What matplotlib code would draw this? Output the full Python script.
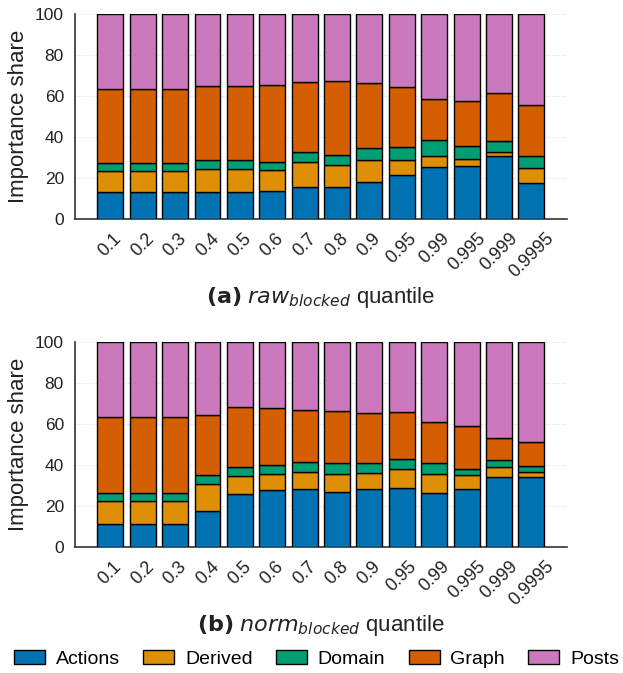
import numpy as np
import matplotlib
matplotlib.use("Agg")
import matplotlib.pyplot as plt

plt.rcParams['font.family'] = ['Liberation Sans', 'DejaVu Sans']
plt.rcParams['mathtext.fontset'] = 'dejavusans'

# quantile labels
quantiles = ['0.1', '0.2', '0.3', '0.4', '0.5', '0.6', '0.7', '0.8', '0.9',
             '0.95', '0.99', '0.995', '0.999', '0.9995']
groups = ['Actions', 'Derived', 'Domain', 'Graph', 'Posts']
colors = ['#0173B2', '#DE8F05', '#029E73', '#D55E00', '#CC78BC']

# (a) raw_blocked: share per group (percent)
raw_actions = [13.4, 13.4, 13.4, 13.0, 13.0, 13.5, 15.5, 15.8, 18.2, 21.5, 25.2, 25.7, 30.8, 17.4]
raw_derived = [9.9, 9.9, 9.9, 11.4, 11.4, 10.3, 12.2, 10.4, 10.8, 7.3, 5.4, 3.6, 2.1, 7.7]
raw_domain = [4.1, 4.1, 4.1, 4.3, 4.3, 4.1, 5.0, 5.2, 5.4, 6.2, 7.8, 6.4, 5.0, 5.5]
raw_graph = [36.1, 36.1, 36.1, 36.0, 36.0, 37.6, 34.1, 36.0, 32.0, 29.5, 20.1, 22.0, 23.5, 24.9]
raw_posts = [36.5, 36.5, 36.5, 35.3, 35.3, 34.5, 33.2, 32.6, 33.6, 35.5, 41.5, 42.3, 38.6, 44.5]

# (b) norm_blocked: share per group (percent)
norm_actions = [10.9, 10.9, 10.9, 17.6, 25.9, 27.5, 28.1, 26.7, 28.1, 28.6, 26.3, 28.1, 34.0, 34.0]
norm_derived = [11.2, 11.2, 11.2, 12.8, 8.7, 7.8, 8.2, 8.7, 7.7, 9.3, 9.0, 6.7, 5.0, 2.3]
norm_domain = [4.2, 4.2, 4.2, 4.7, 4.4, 4.4, 4.8, 5.3, 4.9, 4.9, 5.4, 3.2, 3.3, 2.9]
norm_graph = [36.8, 36.8, 36.8, 29.0, 29.0, 28.1, 25.6, 25.5, 24.5, 23.1, 20.3, 20.7, 10.5, 11.9]
norm_posts = [36.9, 36.9, 36.9, 35.9, 32.0, 32.2, 33.3, 33.8, 34.8, 34.1, 39.0, 41.3, 47.2, 48.9]


def stacked(ax, series, xlabel):
    x = np.arange(len(quantiles))
    bottom = np.zeros(len(quantiles))
    for name, vals, c in zip(groups, series, colors):
        vals = np.array(vals)
        ax.bar(x, vals, 0.8, bottom=bottom, color=c, edgecolor='black',
               linewidth=1.0, label=name, zorder=3)
        bottom += vals
    ax.set_ylim(0, 100)
    ax.set_xlim(-1.09, 14.1)
    ax.set_yticks([0, 20, 40, 60, 80, 100])
    ax.set_xticks(x)
    ax.set_xticklabels(quantiles, rotation=45, fontsize=13)
    ax.tick_params(axis='y', labelsize=12.5, length=0, pad=8, labelcolor='#222222')
    ax.tick_params(axis='x', length=0, pad=8, labelcolor='#222222')
    ax.yaxis.grid(True, linestyle=':', color='#dddddd', linewidth=0.8, zorder=0)
    for s in ['top', 'right']:
        ax.spines[s].set_visible(False)
    for s in ['left', 'bottom']:
        ax.spines[s].set_color('#333333')
        ax.spines[s].set_linewidth(1.2)
    ax.set_ylabel('Importance share', fontsize=16, color='#222222', labelpad=4)
    ax.set_xlabel(xlabel, fontsize=16, color='#222222', labelpad=3)


fig = plt.figure(figsize=(6.23, 6.73), dpi=100)
ax1 = fig.add_axes([0.1204, 0.6746, 0.7897, 0.3046])
ax2 = fig.add_axes([0.1204, 0.1877, 0.7897, 0.3046])

stacked(ax1, [raw_actions, raw_derived, raw_domain, raw_graph, raw_posts],
        r'$\mathbf{(a)}$ $\mathit{raw}_{\mathit{blocked}}$ quantile')
stacked(ax2, [norm_actions, norm_derived, norm_domain, norm_graph, norm_posts],
        r'$\mathbf{(b)}$ $\mathit{norm}_{\mathit{blocked}}$ quantile')

handles, labels = ax2.get_legend_handles_labels()
fig.legend(handles, labels, loc='center', bbox_to_anchor=(0.508, 0.021), ncol=5,
           frameon=False, fontsize=14, handlelength=1.6, handleheight=0.7,
           handletextpad=0.55, columnspacing=1.2)

fig.savefig('out.png', dpi=100)
